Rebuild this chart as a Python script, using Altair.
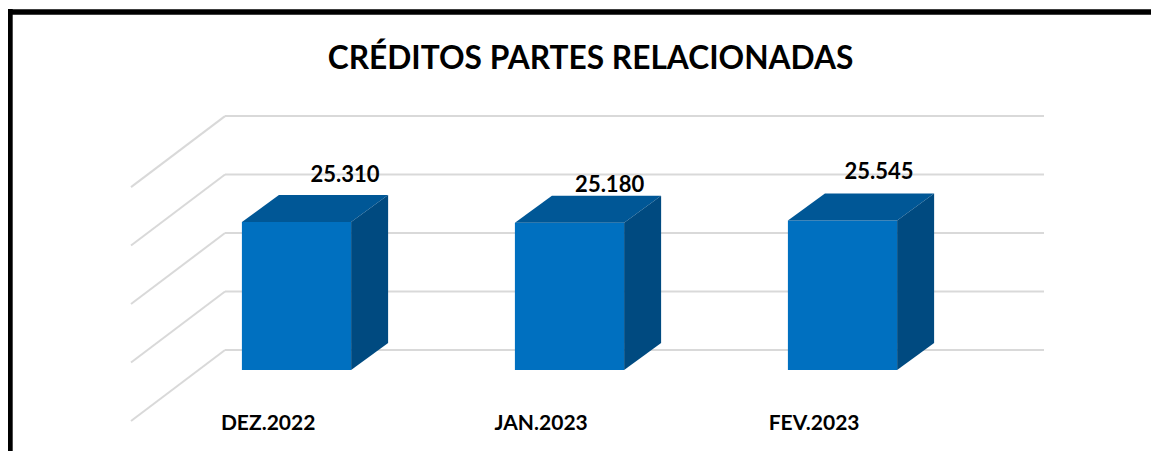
import altair as alt
import pandas as pd

categories = ["DEZ.2022", "JAN.2023", "FEV.2023"]
values = [25310, 25180, 25545]
value_labels = ["25.310", "25.180", "25.545"]
label_shift = [0.178, 0.147, 0.134]
label_rise = [8060, 6460, 8260]
grid_levels = [0, 10000, 20000, 30000, 40000]
title_text = "CRÉDITOS PARTES RELACIONADAS"

W, H = 1143, 443
PX_X = 273.0
PX_Y = 0.005848
X_DOM = [-1.0568, 3.1300]
Y_DOM = [-13851, 61902]
HALF = 0.2
BAR_DX, BAR_DY = 37 / PX_X, 27 / PX_Y
WALL_X0 = (225 - 296.5) / PX_X
WALL_X1 = (1044 - 296.5) / PX_X
FRONT_X = (131 - 296.5) / PX_X
WALL_Y0 = 20 / PX_Y
WALL_DY = 71 / PX_Y

x_s = alt.Scale(domain=X_DOM, nice=False, zero=False)
y_s = alt.Scale(domain=Y_DOM, nice=False, zero=False)
X = alt.X("x:Q", scale=x_s, axis=None)
Y = alt.Y("y:Q", scale=y_s, axis=None)

grid_back = pd.DataFrame([{"x": WALL_X0, "x2": WALL_X1, "y": g + WALL_Y0} for g in grid_levels])
grid_diag = pd.DataFrame(
    [r for k, g in enumerate(grid_levels) for r in (
        {"k": k, "x": FRONT_X, "y": g + WALL_Y0 - WALL_DY},
        {"k": k, "x": WALL_X0, "y": g + WALL_Y0},
    )]
)

front, top, side = [], [], []
for i, v in enumerate(values):
    l, r = i - HALF, i + HALF
    front.append({"x": l, "x2": r, "y": 0, "y2": v})
    side += [
        {"b": i, "x": r, "y": 0, "y2": v},
        {"b": i, "x": r + BAR_DX, "y": BAR_DY, "y2": v + BAR_DY},
    ]
    top += [
        {"b": i, "x": l, "y": v, "y2": v},
        {"b": i, "x": l + BAR_DX, "y": v, "y2": v + BAR_DY},
        {"b": i, "x": r, "y": v, "y2": v + BAR_DY},
        {"b": i, "x": r + BAR_DX, "y": v + BAR_DY, "y2": v + BAR_DY},
    ]

GRID = "#D9D9D9"
layers = [
    alt.Chart(grid_back).mark_rule(color=GRID, strokeWidth=2).encode(x=X, x2="x2:Q", y=Y),
    alt.Chart(grid_diag).mark_line(color=GRID, strokeWidth=2).encode(x=X, y=Y, detail="k:N"),
    alt.Chart(pd.DataFrame(front)).mark_rect(color="#0070C0").encode(x=X, x2="x2:Q", y=Y, y2="y2:Q"),
    alt.Chart(pd.DataFrame(top)).mark_area(color="#005796", opacity=1).encode(x=X, y=Y, y2="y2:Q", detail="b:N"),
    alt.Chart(pd.DataFrame(side)).mark_area(color="#004A80", opacity=1).encode(x=X, y=Y, y2="y2:Q", detail="b:N"),
]

val_df = pd.DataFrame({
    "x": [i + s for i, s in enumerate(label_shift)],
    "y": [v + r for v, r in zip(values, label_rise)],
    "t": value_labels,
})
cat_df = pd.DataFrame({
    "x": [i - 0.104 for i in range(3)],
    "y": [-9270] * 3,
    "t": categories,
})
title_df = pd.DataFrame({"x": [1.077], "y": [53230], "t": [title_text]})
txt = dict(font="Lato", fontWeight="bold", color="#000000", align="center", baseline="middle")
layers += [
    alt.Chart(val_df).mark_text(fontSize=22, **txt).encode(x=X, y=Y, text="t:N"),
    alt.Chart(cat_df).mark_text(fontSize=21, **txt).encode(x=X, y=Y, text="t:N"),
    alt.Chart(title_df).mark_text(fontSize=31.7, **txt).encode(x=X, y=Y, text="t:N"),
    alt.Chart(pd.DataFrame({"a": [0]})).mark_rule(color="#000000", strokeWidth=6).encode(
        x=alt.value(1.7), y=alt.value(1), y2=alt.value(H)),
    alt.Chart(pd.DataFrame({"a": [0]})).mark_rule(color="#000000", strokeWidth=5.5).encode(
        x=alt.value(0), x2=alt.value(W), y=alt.value(4)),
]

chart = (
    alt.layer(*layers)
    .properties(width=W, height=H, padding=0, autosize=alt.AutoSizeParams(type="none"), background="#FFFFFF")
    .configure_view(stroke=None)
)
chart.save("out.html", embed_options={"renderer": "svg", "actions": False})
